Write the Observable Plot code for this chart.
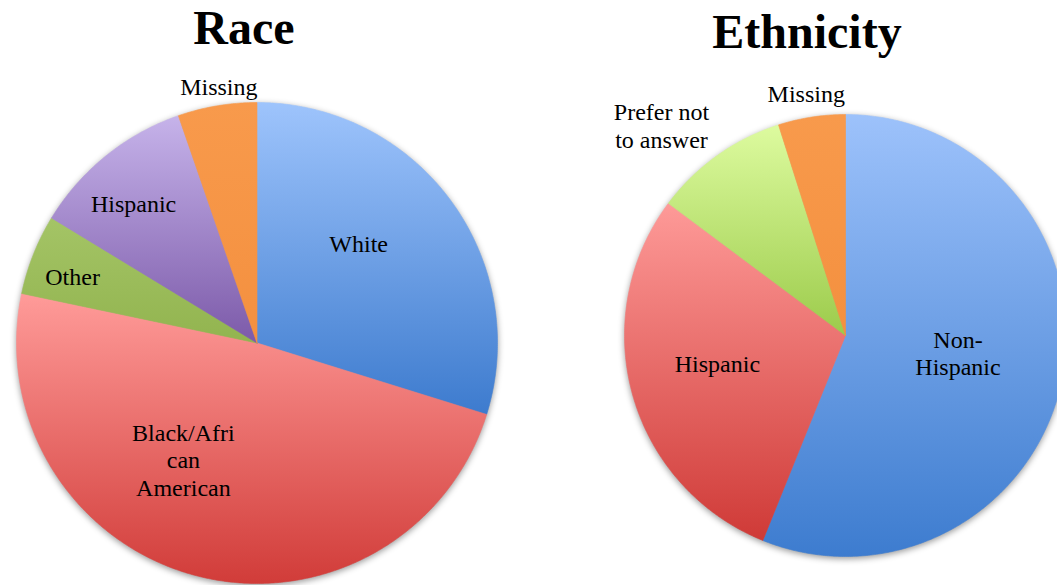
<!DOCTYPE html>
<html>
<head>
<meta charset="utf-8">
<script src="https://cdn.jsdelivr.net/npm/d3@7"></script>
<script src="https://cdn.jsdelivr.net/npm/@observablehq/plot@0.6"></script>
<style>
  html, body { margin: 0; padding: 0; background: #ffffff; overflow: hidden; }
  #wrap { position: relative; width: 1057px; height: 585px; overflow: hidden; background: #ffffff; }
  .title { position: absolute; width: 300px; text-align: center; font-family: "Liberation Serif", serif;
           font-weight: bold; font-size: 48px; line-height: 48px; color: #000; white-space: nowrap; }
  .chart { position: absolute; }
</style>
</head>
<body>
<div id="wrap"></div>
<script>
// ---------- data ----------
const raceCategories = ["White", "Black/African American", "Other", "Hispanic", "Missing"];
const raceValues = [29.8, 48.5, 5.4, 11.0, 5.3];
const raceLabels = ["White", "Black/Afri\ncan\nAmerican", "Other", "Hispanic", "Missing"];

const ethnicityCategories = ["Non-Hispanic", "Hispanic", "Prefer not to answer", "Missing"];
const ethnicityValues = [56.1, 29.1, 9.9, 4.9];
const ethnicityLabels = ["Non-\nHispanic", "Hispanic", "Prefer not\nto answer", "Missing"];

// ---------- styles / layout ----------
const raceColors = [["#9ec4fc", "#3d7bce"], ["#ff9b99", "#d13c39"], ["#a4c466", "#92b44f"], ["#c6b3ea", "#7c5aa9"], ["#f89a4c", "#f4903f"]];
const ethnicityColors = [["#9dc2fb", "#3d7ccf"], ["#fe9a98", "#cf3a37"], ["#ddfb9f", "#9ccb4b"], ["#f89a4c", "#f4903f"]];
// label placement: angular shift from slice mid-angle (deg) and radius fraction
const raceLabelShift = [-8.0, 17.7, -1.8, -2.6, 1.1];
const raceLabelRadius = [0.591, 0.573, 0.815, 0.775, 1.081];
const ethnicityLabelShift = [-2.3, 3.4, -5.7, -0.4];
const ethnicityLabelRadius = [0.515, 0.593, 1.265, 1.109];

const wrap = document.getElementById("wrap");

function pie({categories, values, labels, colors, shift, rfrac, cx, cy, r, id}) {
  const M = 70;
  const total = d3.sum(values);
  let acc = 0;
  const slices = values.map((v, i) => {
    const a0 = acc / total * 360; acc += v;
    const a1 = acc / total * 360;
    return {i, cat: categories[i], a0, a1, mid: (a0 + a1) / 2};
  });
  const pts = [];
  for (const s of slices) {
    const fill = `url(#${id}-${s.i})`;
    pts.push({cat: s.cat, fill, x: 0, y: 0});
    const n = Math.max(2, Math.ceil((s.a1 - s.a0) / 0.5));
    for (let k = 0; k <= n; k++) {
      const a = (s.a0 + (s.a1 - s.a0) * k / n) * Math.PI / 180;
      pts.push({cat: s.cat, fill, x: Math.sin(a), y: Math.cos(a)});
    }
    pts.push({cat: s.cat, fill, x: 0, y: 0});
  }
  const labelData = slices.map(s => {
    const a = (s.mid + shift[s.i]) * Math.PI / 180;
    return {text: labels[s.i], x: rfrac[s.i] * Math.sin(a), y: rfrac[s.i] * Math.cos(a)};
  });
  const size = 2 * r + 2 * M;
  const svg = Plot.plot({
    width: size, height: size, margin: M,
    style: {background: "transparent", overflow: "visible", maxWidth: "none"},
    x: {domain: [-1, 1], axis: null},
    y: {domain: [-1, 1], axis: null},
    color: {type: "identity"},
    marks: [
      Plot.line(pts, {x: "x", y: "y", z: "cat", fill: "fill", stroke: "fill", strokeWidth: 0.6, curve: "linear"}),
      Plot.text(labelData, {x: "x", y: "y", text: "text", fontSize: 24, fontFamily: "Liberation Serif, serif",
        fill: "#000", lineHeight: 1.15, textAnchor: "middle"})
    ]
  });
  const ns = "http://www.w3.org/2000/svg";
  const defs = document.createElementNS(ns, "defs");
  colors.forEach(([top, bottom], i) => {
    const g = document.createElementNS(ns, "linearGradient");
    g.setAttribute("id", `${id}-${i}`);
    g.setAttribute("x1", "0"); g.setAttribute("y1", "0");
    g.setAttribute("x2", "0"); g.setAttribute("y2", "1");
    [[0, top], [1, bottom]].forEach(([o, c]) => {
      const st = document.createElementNS(ns, "stop");
      st.setAttribute("offset", o); st.setAttribute("stop-color", c);
      g.appendChild(st);
    });
    defs.appendChild(g);
  });
  svg.insertBefore(defs, svg.firstChild);
  const lineG = svg.querySelector('g[aria-label="line"]');
  if (lineG) lineG.style.filter = "drop-shadow(0px 2px 3px rgba(0,0,0,0.4))";
  svg.classList.add("chart");
  svg.style.left = (cx - r - M) + "px";
  svg.style.top = (cy - r - M) + "px";
  wrap.appendChild(svg);
}

pie({categories: raceCategories, values: raceValues, labels: raceLabels, colors: raceColors,
     shift: raceLabelShift, rfrac: raceLabelRadius, cx: 256.5, cy: 342.5, r: 240.5, id: "race"});
pie({categories: ethnicityCategories, values: ethnicityValues, labels: ethnicityLabels, colors: ethnicityColors,
     shift: ethnicityLabelShift, rfrac: ethnicityLabelRadius, cx: 845, cy: 335, r: 221, id: "eth"});

function title(text, cx, baseline) {
  const d = document.createElement("div");
  d.className = "title";
  d.textContent = text;
  d.style.left = (cx - 150) + "px";
  d.style.top = (baseline - 40) + "px";
  wrap.appendChild(d);
}
title("Race", 244, 44);
title("Ethnicity", 807, 48);
</script>
</body>
</html>
